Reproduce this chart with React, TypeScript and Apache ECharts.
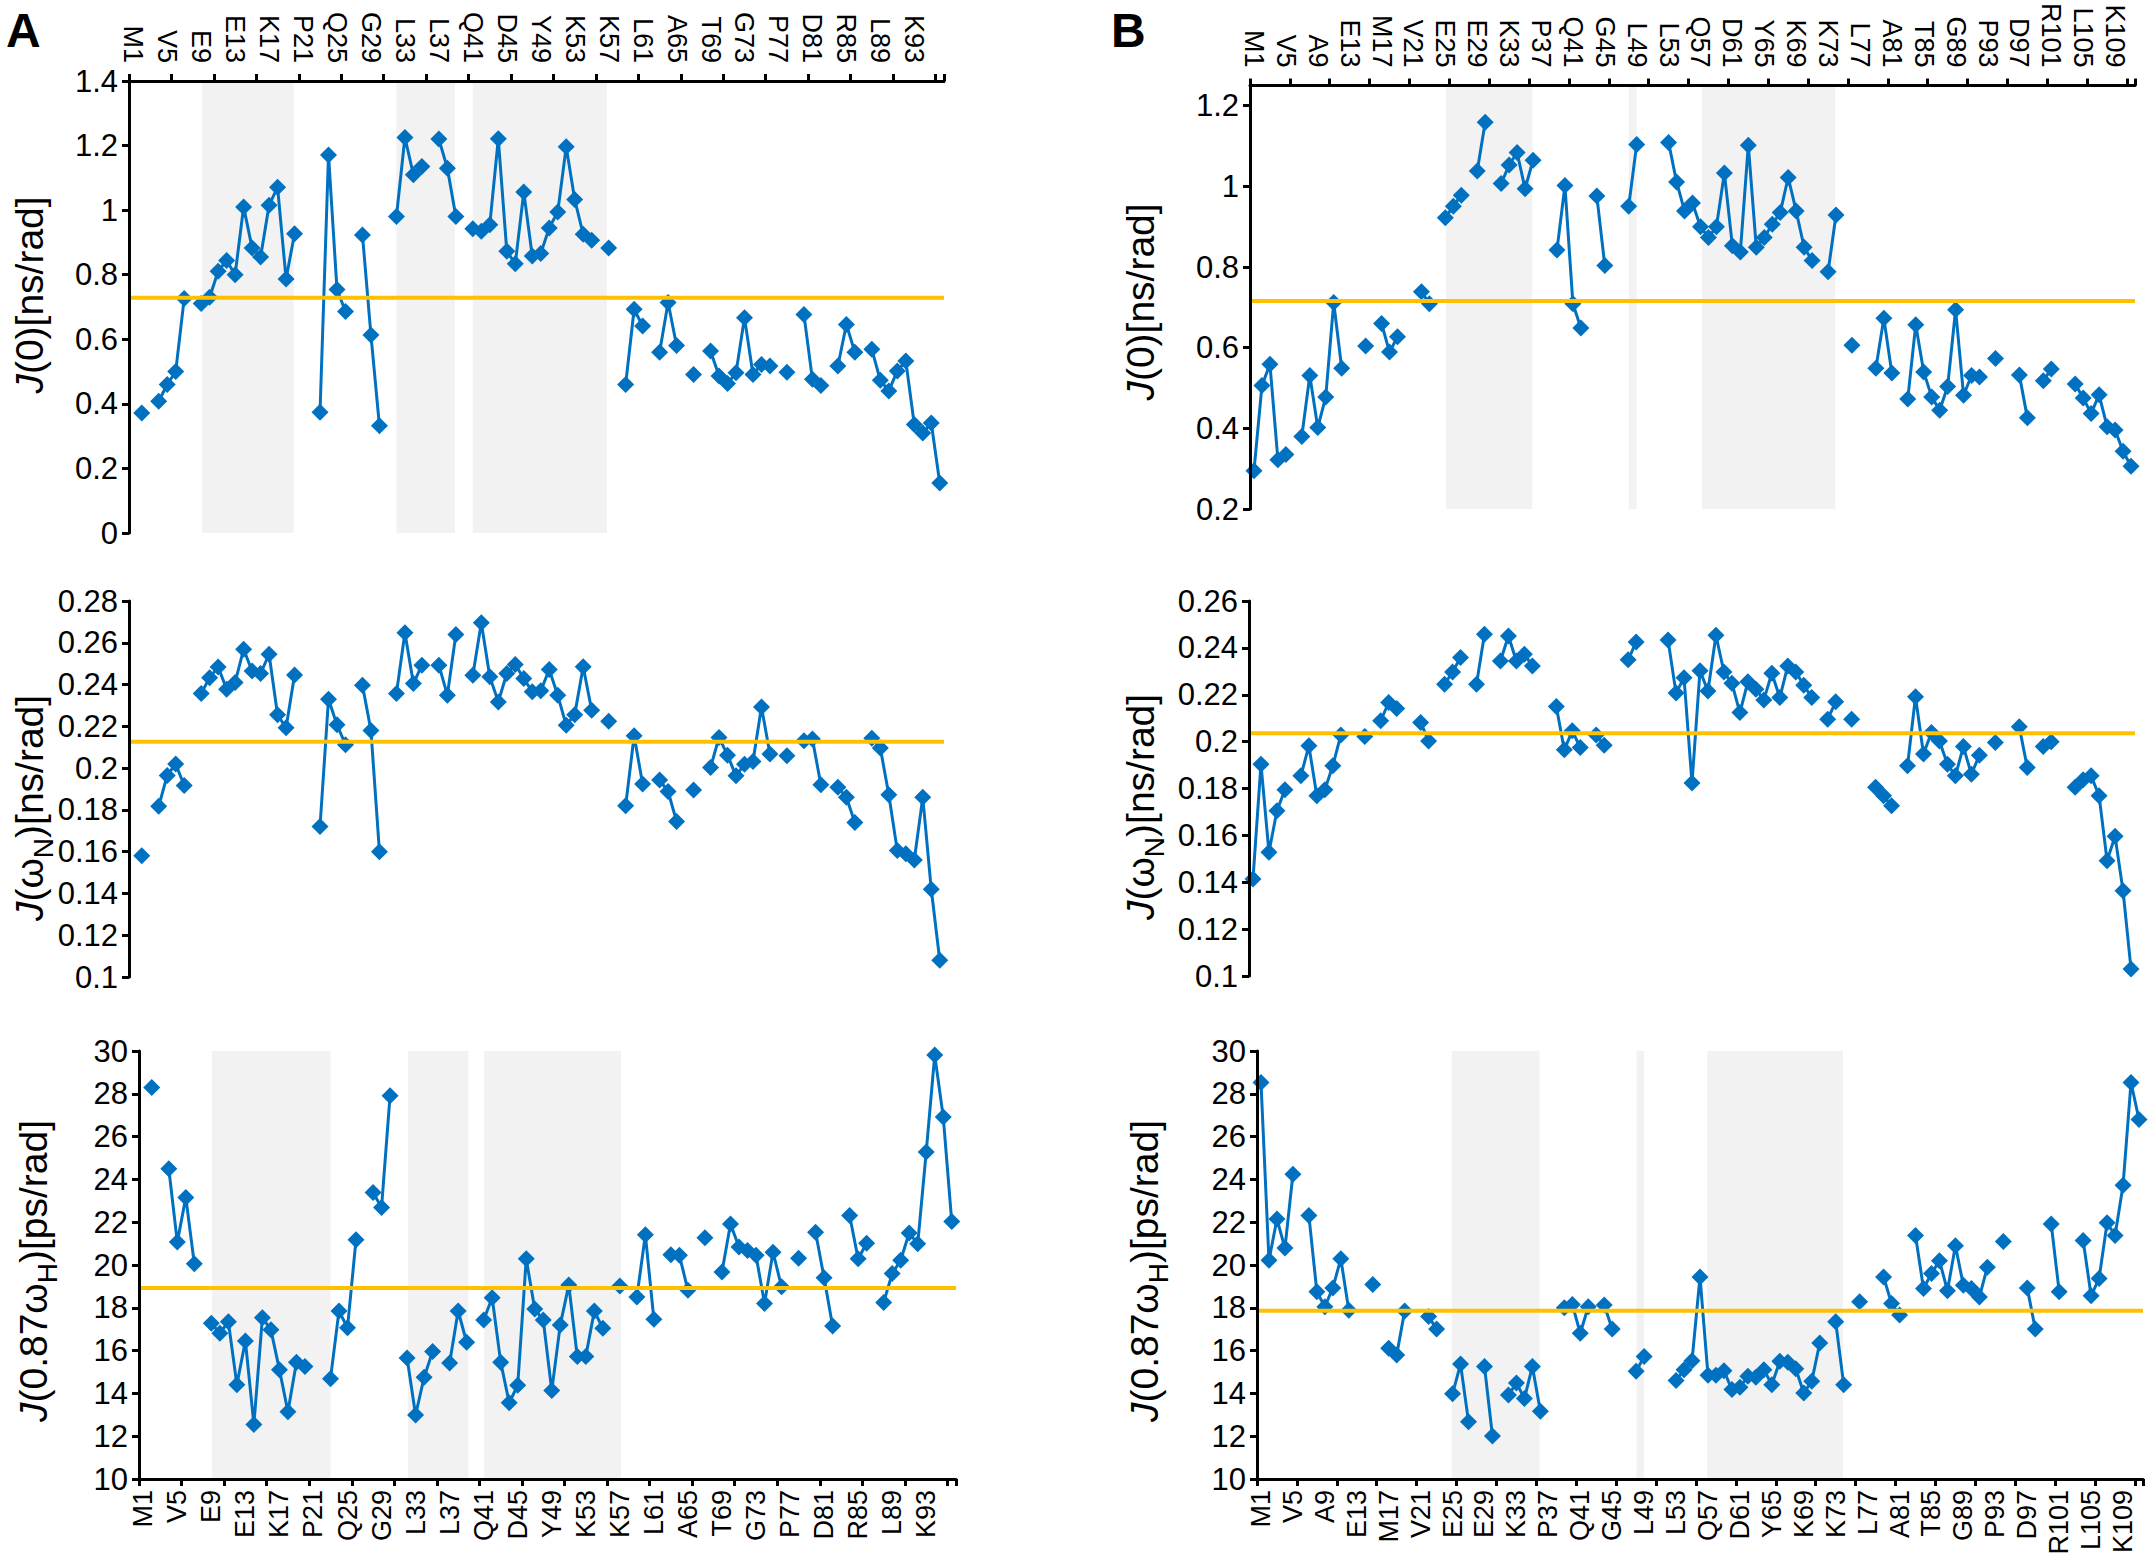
import React, { useEffect, useRef } from 'react';
import * as echarts from 'echarts';

const FONT_NARROW = "'Liberation Sans Narrow', 'Arial Narrow', 'Liberation Sans', Arial, sans-serif";
const FONT = "'Liberation Sans', Arial, sans-serif";
const BLUE = '#0070C0';
const GOLD = '#FFC000';
const BAND = '#F2F2F2';

// ---- tick labels (every 4th residue) ----
const labelsA = ['M1','V5','E9','E13','K17','P21','Q25','G29','L33','L37','Q41','D45','Y49','K53','K57','L61','A65','T69','G73','P77','D81','R85','L89','K93'];
const labelsB = ['M1','V5','A9','E13','M17','V21','E25','E29','K33','P37','Q41','G45','L49','L53','Q57','D61','Y65','K69','K73','L77','A81','T85','G89','P93','D97','R101','L105','K109'];
const residueCountA = 96;
const residueCountB = 111;

// ---- panel A values (index = residue - 1) ----
const j0A = [null, 0.372, null, 0.408, 0.46, 0.50, 0.726, null, 0.711, 0.73,
  0.811, 0.844, 0.80, 1.01, 0.883, 0.855, 1.015, 1.071, 0.787, 0.927,
  null, null, 0.374, 1.171, 0.754, 0.686, null, 0.923, 0.613, 0.332,
  null, 0.98, 1.225, 1.11, 1.135, null, 1.22, 1.13, 0.98, null,
  0.942, 0.935, 0.955, 1.221, 0.873, 0.834, 1.056, 0.858, 0.866, 0.945,
  0.994, 1.196, 1.033, 0.925, 0.907, null, 0.883, null, 0.46, 0.693,
  0.641, null, 0.56, 0.714, 0.581, null, 0.491, null, 0.564, 0.486,
  0.463, 0.496, 0.667, 0.491, 0.522, 0.517, null, 0.498, null, 0.677,
  0.476, 0.457, null, 0.517, 0.646, 0.56, null, 0.569, 0.473, 0.44,
  0.502, 0.533, 0.336, 0.31, 0.341, 0.155];
const jNA = [null, 0.158, null, 0.1817, 0.1965, 0.202, 0.1917, null, 0.2357, 0.2433,
  0.2484, 0.2378, 0.241, 0.2569, 0.2465, 0.2453, 0.2545, 0.2255, 0.2193, 0.2446,
  null, null, 0.172, 0.233, 0.2208, 0.2112, null, 0.2397, 0.218, 0.160,
  null, 0.2357, 0.2648, 0.2405, 0.2493, null, 0.2493, 0.2349, 0.264, null,
  0.2445, 0.2696, 0.2437, 0.2317, 0.2453, 0.2496, 0.2429, 0.2365, 0.237, 0.2472,
  0.2349, 0.2205, 0.2256, 0.2485, 0.2277, null, 0.2224, null, 0.182, 0.2155,
  0.1924, null, 0.1943, 0.1888, 0.1745, null, 0.1895, null, 0.2003, 0.2147,
  0.2062, 0.1963, 0.2019, 0.2032, 0.2293, 0.2067, null, 0.2059, null, 0.2131,
  0.2139, 0.192, null, 0.1908, 0.186, 0.174, null, 0.2143, 0.2096, 0.1872,
  0.1605, 0.159, 0.156, 0.186, 0.142, 0.108];
const jHA = [null, 28.3, null, 24.5, 21.07, 23.16, 20.06, null, 17.28, 16.81,
  17.35, 14.41, 16.45, 12.55, 17.54, 16.97, 15.11, 13.14, 15.46, 15.26,
  null, null, 14.69, 17.85, 17.07, 21.18, null, 23.39, 22.69, 27.91,
  null, 15.65, 12.99, 14.75, 15.96, null, 15.42, 17.85, 16.39, null,
  17.43, 18.47, 15.46, 13.56, 14.38, 20.29, 17.94, 17.43, 14.13, 17.2,
  19.06, 15.73, 15.73, 17.85, 17.04, null, 19.02, null, 18.51, 21.41,
  17.46, null, 20.48, 20.45, 18.82, null, 21.27, null, 19.67, 21.92,
  20.84, 20.68, 20.45, 18.2, 20.6, 18.98, null, 20.32, null, 21.53,
  19.4, 17.15, null, 22.31, 20.29, 21.02, null, 18.25, 19.6, 20.22,
  21.5, 20.99, 25.28, 29.81, 26.92, 22.03];

// ---- panel B values (index = residue - 1) ----
const j0B = [0.295, 0.506, 0.559, 0.322, 0.335, null, 0.38, 0.531, 0.402, 0.478,
  0.712, 0.549, null, null, 0.604, null, 0.66, 0.589, 0.627, null,
  null, 0.739, 0.709, null, 0.922, 0.951, 0.978, null, 1.038, 1.159,
  null, 1.007, 1.053, 1.084, 0.994, 1.065, null, null, 0.842, 1.002,
  0.709, 0.649, null, 0.976, 0.804, null, null, 0.951, 1.104, null,
  null, null, 1.109, 1.011, 0.939, 0.959, 0.9, 0.873, 0.9, 1.033,
  0.853, 0.837, 1.102, 0.849, 0.873, 0.906, 0.935, 1.022, 0.939, 0.849,
  0.816, null, 0.788, 0.929, null, 0.606, null, null, 0.549, 0.673,
  0.537, null, 0.473, 0.657, 0.54, 0.478, 0.445, 0.504, 0.694, 0.482,
  0.531, 0.527, null, 0.573, null, null, 0.532, 0.426, null, 0.518,
  0.547, null, null, 0.51, 0.475, 0.437, 0.483, 0.404, 0.396, 0.343,
  0.306];
const jNB = [0.1414, 0.1904, 0.1528, 0.1705, 0.1795, null, 0.1854, 0.1982, 0.1769, 0.1795,
  0.1897, 0.2028, null, null, 0.2022, null, 0.2089, 0.2167, 0.2141, null,
  null, 0.2082, 0.2003, null, 0.2245, 0.2297, 0.2359, null, 0.2245, 0.2458,
  null, 0.2344, 0.2451, 0.2344, 0.2373, 0.2323, null, null, 0.215, 0.1965,
  0.2046, 0.1975, null, 0.2028, 0.1985, null, null, 0.2349, 0.2425, null,
  null, null, 0.2434, 0.2207, 0.2273, 0.1823, 0.2302, 0.2216, 0.2454, 0.2297,
  0.2249, 0.2124, 0.2255, 0.2224, 0.2178, 0.2292, 0.2188, 0.2323, 0.2297, 0.2241,
  0.2188, null, 0.2096, 0.217, null, 0.2096, null, null, 0.1805, 0.1769,
  0.1726, null, 0.1897, 0.2192, 0.1947, 0.2039, 0.2003, 0.1904, 0.1854, 0.1979,
  0.1861, 0.1942, null, 0.1996, null, null, 0.2064, 0.189, null, 0.1979,
  0.1999, null, null, 0.1805, 0.1837, 0.1854, 0.1769, 0.1492, 0.1596, 0.1364,
  0.103];
const jHB = [28.53, 20.22, 22.15, 20.79, 24.24, null, 22.31, 18.75, 18.05, 18.93,
  20.29, 17.89, null, null, 19.09, null, 16.11, 15.8, 17.85, null,
  null, 17.59, 17.01, null, 13.98, 15.37, 12.68, null, 15.26, 12.01,
  null, 13.92, 14.49, 13.76, 15.26, 13.17, null, null, 18.0, 18.16,
  16.81, 18.05, null, 18.13, 17.01, null, null, 15.03, 15.73, null,
  null, null, 14.6, 15.11, 15.53, 19.44, 14.85, 14.85, 15.06, 14.18,
  14.29, 14.8, 14.75, 15.11, 14.41, 15.5, 15.46, 15.15, 14.02, 14.57,
  16.35, null, 17.35, 14.41, null, 18.28, null, null, 19.44, 18.2,
  17.66, null, 21.38, 18.9, 19.6, 20.2, 18.8, 20.9, 19.05, 18.9,
  18.5, 19.9, null, 21.1, null, null, 18.93, 17.01, null, 21.92,
  18.75, null, null, 21.15, 18.56, 19.37, 21.97, 21.38, 23.73, 28.53,
  26.8];

// ---- mean lines ----
const meansA = [0.729, 0.2126, 18.93];
const meansB = [0.716, 0.2036, 17.86];

// ---- shaded regions, in residue numbers ----
const bandsTopA = [[9.1, 19.9], [32.0, 38.9], [41.0, 56.8]];
const bandsBotA = [[9.07, 23.0], [32.1, 39.2], [41.05, 57.15]];
const bandsTopB = [[25.1, 35.9], [48.0, 49.0], [57.2, 73.9]];
const bandsBotB = [[24.9, 35.9], [48.05, 49.0], [56.9, 73.9]];

function makeCategories(labels: string[], n: number) {
  const cats: string[] = [];
  for (let i = 0; i < n; i++) {
    cats.push(i % 4 === 0 && labels[i / 4] ? labels[i / 4] : String(i + 1));
  }
  return cats;
}

const panels = [
  { left: 129, top: 81, width: 815, height: 452, n: residueCountA, labels: labelsA, values: j0A, yMin: 0, yMax: 1.4, yStep: 0.2, mean: meansA[0], bands: bandsTopA, xPos: 'top' },
  { left: 129, top: 601, width: 815, height: 376, n: residueCountA, labels: labelsA, values: jNA, yMin: 0.1, yMax: 0.28, yStep: 0.02, mean: meansA[1], bands: [], xPos: 'none' },
  { left: 139, top: 1051, width: 817, height: 428, n: residueCountA, labels: labelsA, values: jHA, yMin: 10, yMax: 30, yStep: 2, mean: meansA[2], bands: bandsBotA, xPos: 'bottom' },
  { left: 1250, top: 81, width: 885, height: 428, n: residueCountB, labels: labelsB, values: j0B, yMin: 0.2, yMax: 1.25, yStep: 0.2, mean: meansB[0], bands: bandsTopB, xPos: 'top', custom: [0.2, 0.4, 0.6, 0.8, 1, 1.2] },
  { left: 1249, top: 601, width: 886, height: 375, n: residueCountB, labels: labelsB, values: jNB, yMin: 0.1, yMax: 0.26, yStep: 0.02, mean: meansB[1], bands: [], xPos: 'none' },
  { left: 1257, top: 1051, width: 886, height: 428, n: residueCountB, labels: labelsB, values: jHB, yMin: 10, yMax: 30, yStep: 2, mean: meansB[2], bands: bandsBotB, xPos: 'bottom' },
];

const RICH = {
  n: { fontFamily: FONT, fontSize: 39, lineHeight: 42, verticalAlign: 'top', color: '#000' },
  i: { fontFamily: FONT, fontSize: 39, lineHeight: 42, verticalAlign: 'top', fontStyle: 'italic', color: '#000' },
  s: { fontFamily: FONT, fontSize: 28, lineHeight: 28, verticalAlign: 'top', padding: [19, 0, 0, 0], color: '#000' },
};
const titleJ0 = '{i|J}{n|(0)[ns/rad]}';
const titleJN = '{i|J}{n|(ω}{s|N}{n|)[ns/rad]}';
const titleJH = '{i|J}{n|(0.87ω}{s|H}{n|)[ps/rad]}';
const titles = [
  { text: titleJ0, x: 31, y: 295 },
  { text: titleJN, x: 31, y: 808 },
  { text: titleJH, x: 35, y: 1271 },
  { text: titleJ0, x: 1142, y: 302 },
  { text: titleJN, x: 1142, y: 807 },
  { text: titleJH, x: 1146, y: 1271 },
];

function fmt(v: number) {
  return String(parseFloat(Number(v).toFixed(4)));
}

function buildOption() {
  const grid: any[] = [];
  const xAxis: any[] = [];
  const yAxis: any[] = [];
  const series: any[] = [];
  panels.forEach((p: any, k: number) => {
    grid.push({ left: p.left, top: p.top, width: p.width, height: p.height, show: false });
    xAxis.push({
      type: 'category', gridIndex: k, data: makeCategories(p.labels, p.n), boundaryGap: true,
      position: p.xPos === 'top' ? 'top' : 'bottom',
      show: p.xPos !== 'none', z: 10,
      axisLine: { show: true, onZero: false, lineStyle: { color: '#000', width: 3 } },
      axisTick: { show: true, interval: 4, length: 7, lineStyle: { color: '#000', width: 3 } },
      axisLabel: { interval: 3, rotate: 90, margin: p.xPos === 'top' ? 18 : 11, fontFamily: FONT_NARROW, fontSize: 27, color: '#000' },
      splitLine: { show: false },
    });
    xAxis.push({ type: 'value', gridIndex: k, min: 0.5, max: p.n + 0.5, show: false, splitLine: { show: false } });
    const yTick: any = { show: true, length: 7, lineStyle: { color: '#000', width: 3 } };
    const yLabel: any = { margin: 11, fontFamily: FONT_NARROW, fontSize: 31, color: '#000', formatter: fmt };
    if (p.custom) { yTick.customValues = p.custom; yLabel.customValues = p.custom; }
    yAxis.push({
      type: 'value', gridIndex: k, min: p.yMin, max: p.yMax, interval: p.yStep, z: 10,
      axisLine: { show: true, onZero: false, lineStyle: { color: '#000', width: 3 } },
      axisTick: yTick, axisLabel: yLabel, splitLine: { show: false },
    });
    if (p.bands.length) {
      series.push({
        type: 'custom', xAxisIndex: 2 * k + 1, yAxisIndex: k, z: 1, silent: true,
        data: p.bands,
        renderItem: (params: any, api: any) => {
          const a = api.coord([api.value(0), p.yMax]);
          const b = api.coord([api.value(1), p.yMin]);
          return { type: 'rect', shape: { x: a[0], y: a[1], width: b[0] - a[0], height: b[1] - a[1] }, style: { fill: BAND } };
        },
      });
    }
    series.push({
      type: 'line', xAxisIndex: 2 * k, yAxisIndex: k, data: p.values, z: 3, silent: true,
      symbol: 'diamond', symbolSize: 17, showSymbol: true, showAllSymbol: true, connectNulls: false,
      lineStyle: { color: BLUE, width: 3 }, itemStyle: { color: BLUE },
    });
    series.push({
      type: 'line', xAxisIndex: 2 * k + 1, yAxisIndex: k, z: 4, silent: true,
      data: [[0.5, p.mean], [p.n + 0.5, p.mean]], symbol: 'none', showSymbol: false,
      lineStyle: { color: GOLD, width: 4 },
    });
  });

  const graphic: any[] = [
    { type: 'text', x: 6, y: 6, style: { text: 'A', fontFamily: FONT, fontWeight: 'bold', fontSize: 48, fill: '#000', verticalAlign: 'top' } },
    { type: 'text', x: 1111, y: 6, style: { text: 'B', fontFamily: FONT, fontWeight: 'bold', fontSize: 48, fill: '#000', verticalAlign: 'top' } },
  ];
  titles.forEach((t) => {
    graphic.push({ type: 'text', x: t.x, y: t.y, rotation: Math.PI / 2, style: { text: t.text, rich: RICH, align: 'center', verticalAlign: 'middle', fontFamily: FONT, fontSize: 39, fill: '#000' } });
  });

  return { animation: false, backgroundColor: '#fff', grid, xAxis, yAxis, series, graphic };
}

export default function App() {
  const ref = useRef<HTMLDivElement>(null);
  useEffect(() => {
    const chart = echarts.init(ref.current as HTMLDivElement, null, { renderer: 'svg' });
    chart.setOption(buildOption() as any);
    return () => chart.dispose();
  }, []);
  return <div ref={ref} style={{ position: 'absolute', left: 0, top: 0, width: 2153, height: 1558, background: '#fff' }} />;
}
